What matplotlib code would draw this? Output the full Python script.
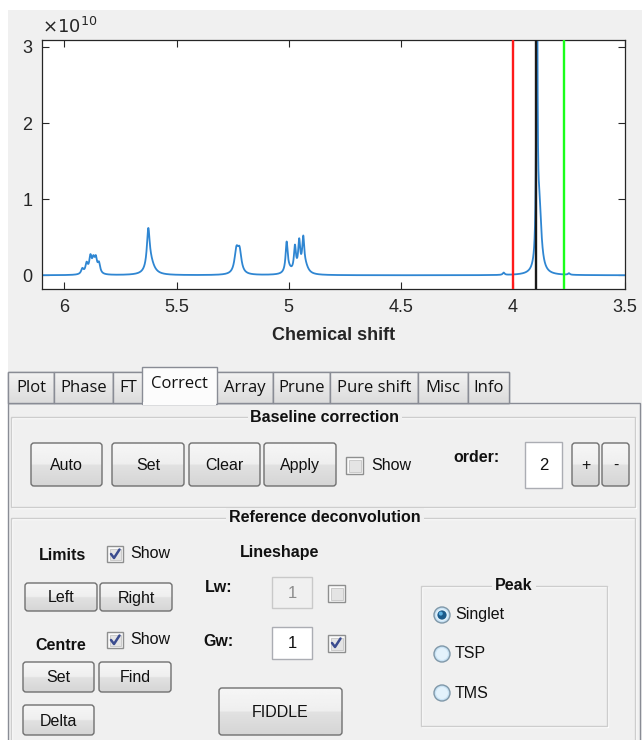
import numpy as np
import matplotlib
matplotlib.use('Agg')
import matplotlib.pyplot as plt
from matplotlib.patches import Rectangle, FancyBboxPatch, Circle
from matplotlib.lines import Line2D

# ---------------- data ----------------
ppm_limits = (6.1, 3.5)
int_limits = (-0.18, 3.09)          # units of 1e10
# peak list: position (ppm), height (1e10), half width (ppm)
peak_ppm    = [5.920, 5.901, 5.884, 5.871, 5.860, 5.846,
               5.626, 5.616,
               5.233, 5.219,
               5.009, 5.000, 4.972, 4.953, 4.935, 4.926,
               4.041,
               3.893, 3.882, 3.750]
peak_height = [0.07, 0.13, 0.21, 0.16, 0.18, 0.13,
               0.50, 0.15,
               0.29, 0.28,
               0.38, 0.06, 0.33, 0.39, 0.40, 0.10,
               0.03,
               5.5, 0.85, 0.02]
peak_hwhm   = [0.0065, 0.0065, 0.0065, 0.0065, 0.0065, 0.0065,
               0.0075, 0.020,
               0.010, 0.010,
               0.0055, 0.016, 0.0055, 0.0055, 0.0055, 0.016,
               0.005,
               0.0025, 0.011, 0.005]
xtick_vals = [6, 5.5, 5, 4.5, 4, 3.5]
ytick_vals = [0, 1, 2, 3]
marker_ppm = [4.0, 3.897, 3.772]
marker_colors = ['#ff1a1a', '#1a1a1a', '#1aff1a']
tab_labels = ['Plot', 'Phase', 'FT', 'Correct', 'Array', 'Prune', 'Pure shift', 'Misc', 'Info']
active_tab = 'Correct'
baseline_buttons = ['Auto', 'Set', 'Clear', 'Apply']
order_value = '2'
lw_value = '1'
gw_value = '1'
peak_options = ['Singlet', 'TSP', 'TMS']
peak_selected = 'Singlet'

GUI_FONT = 'Liberation Sans'
TAB_FONT = 'Open Sans'
BG = '#f0f0f0'

fig = plt.figure(figsize=(6.42, 7.40), dpi=100)
fig.patch.set_facecolor('white')
ax0 = fig.add_axes([0, 0, 1, 1])
ax0.set_axis_off()
ax0.set_zorder(0)

ax0.add_patch(Rectangle((8, 10), 634, 730, fc=BG, ec='none', zorder=0))


def button(x0, y0, x1, y1, label, fs=11.5):
    patch = FancyBboxPatch((x0, y0), x1 - x0, y1 - y0,
                           boxstyle='round,pad=0,rounding_size=3',
                           fc='none', ec='#707070', lw=1.0, zorder=3)
    ax0.add_patch(patch)
    grad = np.concatenate([np.linspace(0.965, 0.935, 50), np.linspace(0.885, 0.835, 50)])
    img = np.repeat(grad[:, None], 2, axis=1)
    im = ax0.imshow(img, cmap='gray', vmin=0, vmax=1, extent=[x0, x1, y1, y0],
                    aspect='auto', zorder=2, interpolation='bilinear')
    im.set_clip_path(patch)
    ax0.text((x0 + x1) / 2, (y0 + y1) / 2 + 1, label, ha='center', va='center',
             fontsize=fs, family=GUI_FONT, color='#111111', zorder=4)


def checkbox(x, y, checked, s=16):
    ax0.add_patch(Rectangle((x, y), s, s, fc='#fbfbfb', ec='#8e8f8f', lw=1.0, zorder=3))
    ax0.add_patch(Rectangle((x + 2.5, y + 2.5), s - 5, s - 5, fc='#e4e4e4', ec='#c4c4c4',
                            lw=0.6, zorder=3))
    if checked:
        ax0.add_line(Line2D([x + 4, x + 7, x + 12.5], [y + 8, y + 12, y + 3.5],
                            color='#3b4c8f', lw=1.8, zorder=4, solid_capstyle='round'))


def textbox(x0, y0, x1, y1, val, enabled=True):
    ax0.add_patch(Rectangle((x0, y0), x1 - x0, y1 - y0,
                            fc='white' if enabled else BG,
                            ec='#abadb3' if enabled else '#c9c9c9', lw=1.0, zorder=3))
    ax0.text((x0 + x1) / 2, (y0 + y1) / 2 + 1, val, ha='center', va='center', fontsize=12,
             family=GUI_FONT, color='#111111' if enabled else '#8d8d8d', zorder=4)


def radio(cx, cy, selected):
    ax0.add_patch(Circle((cx, cy), 8, fc='#c9e3f5', ec='#7f97a8', lw=1.0, zorder=3))
    ax0.add_patch(Circle((cx, cy), 6, fc='#e3f2fc', ec='none', zorder=3))
    if selected:
        ax0.add_patch(Circle((cx, cy), 4.6, fc='#1b5a8a', ec='none', zorder=4))
        ax0.add_patch(Circle((cx - 1.2, cy - 1.4), 2.0, fc='#5aaee0', ec='none', zorder=4))


def groupbox(x0, y0, x1, y1, title, tx, fs=11.5):
    ax0.add_patch(Rectangle((x0 + 1, y0 + 1), x1 - x0, y1 - y0, fc='none', ec='white', lw=1.0, zorder=1))
    ax0.add_patch(Rectangle((x0, y0), x1 - x0, y1 - y0, fc='none', ec='#cdcdcd', lw=1.0, zorder=1))
    ax0.text(tx, y0, title, ha='center', va='center', fontsize=fs, fontweight='bold',
             family=GUI_FONT, color='#111111', zorder=2,
             bbox=dict(fc=BG, ec='none', pad=2))


def label(x, y, s, bold=False, ha='center', fs=11.5):
    ax0.text(x, y, s, ha=ha, va='center', fontsize=fs, family=GUI_FONT,
             fontweight='bold' if bold else 'normal', color='#111111', zorder=4)


# ---------------- tabs ----------------
tab_edges = [8, 54, 113, 143, 216, 273, 330, 418, 468, 509]
ax0.add_patch(Rectangle((8, 403), 632, 340, fc=BG, ec='#898c95', lw=1.0, zorder=1))
for i, name in enumerate(tab_labels):
    x0, x1 = tab_edges[i], tab_edges[i + 1]
    if name == active_tab:
        continue
    p = Rectangle((x0, 372), x1 - x0, 31, fc='#e3e3e3', ec='#898c95', lw=1.0, zorder=2)
    ax0.add_patch(p)
    grad = np.linspace(0.95, 0.86, 60)
    im = ax0.imshow(np.repeat(grad[:, None], 2, axis=1), cmap='gray', vmin=0, vmax=1,
                    extent=[x0, x1, 403, 372], aspect='auto', zorder=2, interpolation='bilinear')
    im.set_clip_path(p)
    ax0.add_patch(Rectangle((x0, 372), x1 - x0, 31, fc='none', ec='#898c95', lw=1.0, zorder=2))
    ax0.text((x0 + x1) / 2, 388, name, ha='center', va='center', fontsize=12,
             family=TAB_FONT, color='#111111', zorder=3)
i = tab_labels.index(active_tab)
x0, x1 = tab_edges[i] - 1, tab_edges[i + 1] + 1
ax0.add_patch(Rectangle((x0, 367), x1 - x0, 37, fc='#fcfcfc', ec='#898c95', lw=1.0, zorder=3))
ax0.add_patch(Rectangle((x0 + 0.6, 402), x1 - x0 - 1.2, 3, fc='#fcfcfc', ec='none', zorder=3))
ax0.text((x0 + x1) / 2, 384, active_tab, ha='center', va='center', fontsize=12,
         family=TAB_FONT, color='#111111', zorder=4)

# ---------------- baseline correction ----------------
groupbox(11, 417, 635, 507, 'Baseline correction', 325)
bx = [(31, 102), (112, 184), (189, 260), (264, 336)]
for (a, b), name in zip(bx, baseline_buttons):
    button(a, 443, b, 486, name)
checkbox(346, 457, False, s=17)
label(371, 465, 'Show', ha='left')
label(477, 457, 'order:', bold=True)
textbox(525, 442, 562, 488, order_value)
button(572, 443, 599, 486, '+')
button(602, 443, 629, 486, '-')

# ---------------- reference deconvolution ----------------
groupbox(11, 518, 635, 760, 'Reference deconvolution', 325)
label(62, 555, 'Limits', bold=True)
checkbox(107, 546, True)
label(130, 553, 'Show', ha='left')
button(25, 583, 97, 611, 'Left')
button(100, 583, 172, 611, 'Right')
label(61, 645, 'Centre', bold=True)
checkbox(107, 632, True)
label(130, 640, 'Show', ha='left')
button(23, 662, 94, 692, 'Set')
button(99, 662, 171, 692, 'Find')
button(23, 705, 94, 735, 'Delta')

label(280, 552, 'Lineshape', bold=True)
label(219, 588, 'Lw:', bold=True)
textbox(272, 577, 312, 608, lw_value, enabled=False)
checkbox(328, 585, False, s=17)
label(219, 642, 'Gw:', bold=True)
textbox(272, 627, 312, 659, gw_value)
checkbox(328, 635, True, s=17)
button(219, 688, 342, 735, 'FIDDLE')

groupbox(421, 586, 607, 726, 'Peak', 514)
for k, (name, yy) in enumerate(zip(peak_options, [615, 654, 693])):
    radio(442, yy, name == peak_selected)
    label(455, yy, name, ha='left')

ax0.set_xlim(0, 642)
ax0.set_ylim(740, 0)

# ---------------- spectrum axes ----------------
W, H = 642.0, 740.0
L, R, T, B = 42, 625, 40, 289
ax = fig.add_axes([L / W, 1 - B / H, (R - L) / W, (B - T) / H])
ax.set_zorder(2)
ax.set_facecolor('white')
ppm = np.linspace(ppm_limits[0], ppm_limits[1], 8000)
spec = np.zeros_like(ppm)
for p, h, w in zip(peak_ppm, peak_height, peak_hwhm):
    spec += h / (1 + ((ppm - p) / w) ** 2)
ax.plot(ppm, spec, color='#2f86d2', lw=1.3, zorder=2)
for m, c in zip(marker_ppm, marker_colors):
    ax.axvline(m, color=c, lw=1.7, zorder=3)
ax.set_xlim(*ppm_limits)
ax.set_ylim(*int_limits)
ax.set_xticks(xtick_vals)
ax.set_xticklabels([f'{v:g}' for v in xtick_vals])
ax.set_yticks(ytick_vals)
axc = '#262626'
for s in ax.spines.values():
    s.set_color(axc)
    s.set_linewidth(0.9)
ax.tick_params(direction='in', top=True, right=True, length=5, width=0.8, colors=axc,
               labelsize=13, pad=7)
for t in ax.get_xticklabels() + ax.get_yticklabels():
    t.set_family(GUI_FONT)
ax.set_xlabel('Chemical shift', fontsize=13, fontweight='bold', family=GUI_FONT,
              color=axc, labelpad=8)
ax0.text(42, 27, r'$\times 10^{10}$', fontsize=13, ha='left', va='center', color=axc,
         zorder=5, family=GUI_FONT)

fig.savefig('out.png', dpi=100, facecolor=fig.get_facecolor())
